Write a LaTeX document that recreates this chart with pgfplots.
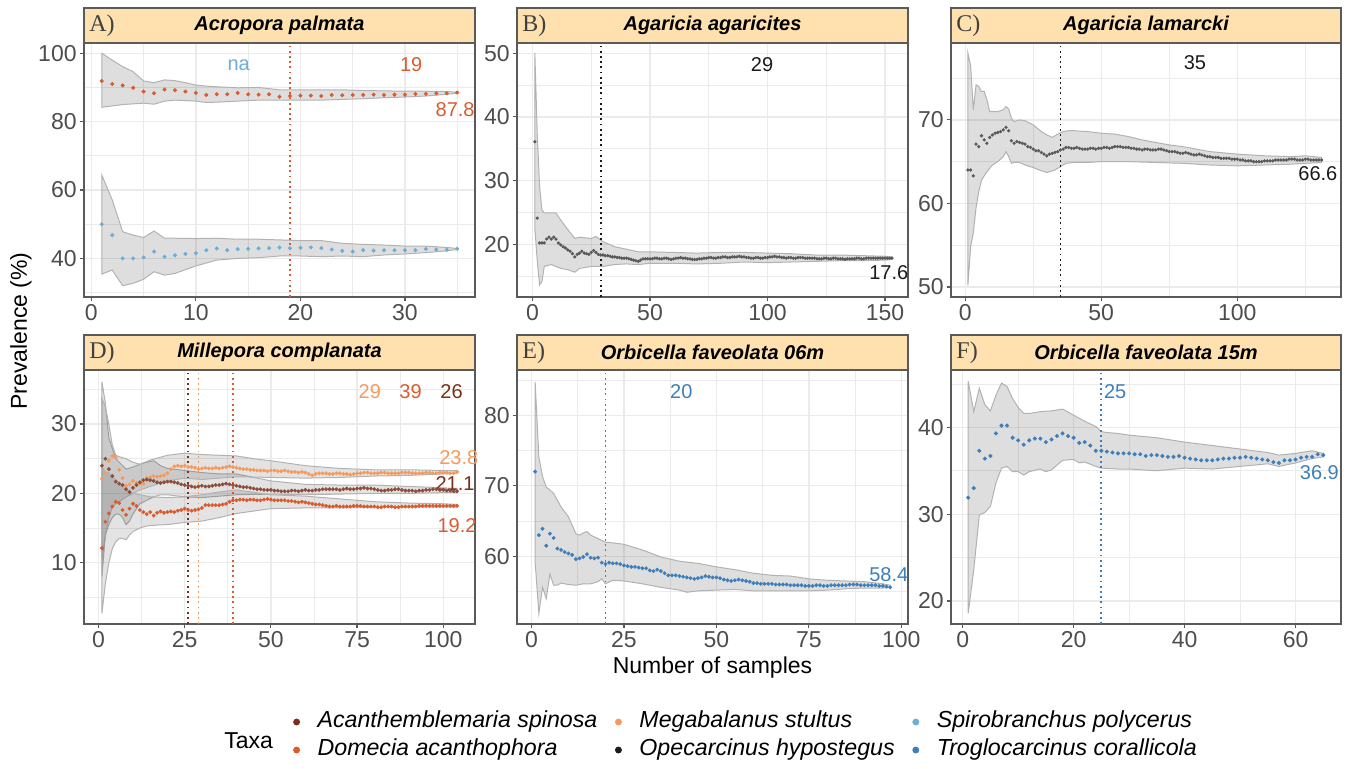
\documentclass[border=0pt]{standalone}
\usepackage{fontspec}
\setmainfont{Liberation Sans}
\newfontfamily\stripserif{Liberation Serif}
\usepackage{pgfplots}
\pgfplotsset{compat=1.18}

\definecolor{acanth}{HTML}{7B2E1A}
\definecolor{dom}{HTML}{D95B2E}
\definecolor{megab}{HTML}{F59A5B}
\definecolor{opec}{HTML}{1A1A1A}
\definecolor{spiro}{HTML}{6BAED6}
\definecolor{troglo}{HTML}{3D7EBB}
\definecolor{stripfill}{HTML}{FFE1B0}
\definecolor{grid92}{HTML}{EBEBEB}
\definecolor{grey30}{HTML}{4D4D4D}
\definecolor{frame}{HTML}{5A5A5A}

\pgfplotsset{
  panel/.style={
    scale only axis, width=195.5pt, height=127pt, anchor=south west, clip=false,
    axis line style={draw=frame, line width=0.7pt},
    tick align=outside, tick pos=left,
    major tick length=2.2pt, minor tick length=0pt,
    every tick/.style={draw=frame, line width=0.6pt},
    grid=both,
    major grid style={draw=grid92, line width=0.65pt},
    minor grid style={draw=grid92, line width=0.35pt},
    tick label style={font=\fontsize{11.5}{12}\selectfont, text=grey30},
    xticklabel style={inner ysep=1.5pt},
    yticklabel style={inner xsep=1.3pt},
    /pgf/number format/assume math mode=true,
  },
  smp/.style={only marks, mark=*, mark size=0.75pt, color=#1, mark options={draw=none, fill=#1}, forget plot},
  ribsty/.style={fill=black, fill opacity=0.13, draw=black!30, line width=0.5pt, forget plot},
  vcut/.style={color=#1, dash pattern=on 0.9pt off 1.7pt, line width=0.9pt, forget plot},
  table/seq/.style={x expr=\coordindex+1, y index=0, header=false, row sep=\\},
  legdot/.style={legend image code/.code={\draw[only marks, mark=*, mark size=1.5pt, color=#1, mark options={draw=#1, fill=#1}] plot coordinates {(0pt,0pt)};}},
}
\tikzset{ann/.style={font=\fontsize{10}{12}\selectfont, inner sep=0pt}}

% ribbon: upper bound left to right, then lower bound right to left
\newcommand{\ribbon}[1]{\addplot[ribsty] coordinates {#1} -- cycle;}
\newcommand{\panelstrip}[2]{%
  \draw[draw=frame, line width=0.7pt, fill=stripfill] (rel axis cs:0,1) rectangle ([yshift=17.5pt]rel axis cs:1,1);
  \node[anchor=west, inner sep=0pt, text=black!75, font=\stripserif\fontsize{12}{12}\selectfont] at ([xshift=2.5pt, yshift=8.75pt]rel axis cs:0,1) {#1};
  \node[inner sep=0pt, font=\bfseries\itshape\fontsize{10}{12}\selectfont] at ([yshift=8.75pt]rel axis cs:0.5,1) {#2};
}

\begin{document}
\begin{tikzpicture}
\useasboundingbox (0pt,0pt) rectangle (676pt,-384pt);

% A) Acropora palmata
\begin{axis}[panel, at={(42pt,-148.5pt)},
  xmin=-0.7, xmax=36.7, ymin=28.7, ymax=103,
  xtick={0,10,20,30}, minor xtick={5,15,25,35},
  ytick={40,60,80,100}, minor ytick={30,50,70,90}]
\ribbon{(1,100)(2,98)(3,96.1)(4,94.6)(5,91.9)(6,91.4)(7,92.2)(8,92.0)(9,91.4)(10,90.7)(11,90.4)(12,90.2)(14,89.9)(16,90.0)(18,89.3)(20,89.3)(22,89.3)(24,89.3)(26,89.1)(28,89.0)(30,88.9)(32,88.9)(34,88.8)(35,88.6)
(35,88.3)(34,88.0)(32,87.5)(30,87.2)(28,87.0)(26,86.7)(24,86.5)(22,86.3)(20,86.3)(18,86.3)(16,86.3)(14,86.0)(12,85.7)(11,85.6)(10,86.0)(8,86.3)(7,86.0)(6,85.1)(5,85.4)(4,85.2)(3,85.0)(2,84.6)(1,84.2)}
\ribbon{(1,64.4)(2,57.1)(3,47.8)(4,46.8)(5,46.1)(6,48.0)(7,45.9)(8,45.9)(10,45.8)(12,45.9)(14,45.6)(16,45.6)(18,45.4)(20,45.2)(22,45.2)(24,44.4)(26,44.1)(28,43.9)(30,43.6)(32,43.6)(34,43.2)(35,42.9)
(35,42.6)(34,42.2)(32,41.7)(30,41.3)(28,41.0)(26,40.5)(24,40.7)(22,40.5)(20,40.7)(18,40.7)(16,40.2)(14,40.0)(12,39.5)(10,37.8)(8,35.6)(7,35.1)(6,36.1)(5,33.9)(4,32.7)(3,32.0)(2,36.6)(1,35.4)}
\addplot[vcut=dom] coordinates {(19,28.7) (19,103)};
\addplot[smp=dom, mark size=0.8pt] table[seq] {91.9\\91.0\\90.6\\89.9\\88.8\\88.3\\89.4\\89.2\\88.8\\88.4\\87.8\\88.0\\88.0\\88.4\\88.0\\87.9\\88.0\\87.3\\87.5\\87.6\\87.6\\87.5\\87.8\\87.7\\87.8\\87.8\\87.9\\87.8\\87.9\\87.9\\88.1\\88.1\\88.3\\88.3\\88.5\\};
\addplot[smp=spiro, mark size=0.8pt] table[seq] {50.0\\46.8\\40.0\\40.0\\40.3\\42.0\\40.5\\40.9\\41.3\\41.5\\42.4\\42.9\\42.4\\42.7\\42.8\\42.9\\43.0\\43.2\\43.0\\43.1\\43.2\\43.0\\42.6\\42.2\\42.0\\42.4\\42.3\\42.4\\42.4\\42.4\\42.4\\42.8\\42.6\\42.5\\42.8\\};
\node[ann, text=spiro] at (axis cs:14.1,96.6) {na};
\node[ann, text=dom] at (axis cs:30.6,96.6) {19};
\node[ann, text=dom] at (axis cs:34.8,83.4) {87.8};
\panelstrip{A)}{Acropora palmata}
\end{axis}

% B) Agaricia agaricites
\begin{axis}[panel, at={(258.5pt,-148.5pt)},
  xmin=-6.6, xmax=159.8, ymin=11.7, ymax=51.6,
  xtick={0,50,100,150}, minor xtick={25,75,125},
  ytick={20,30,40,50}, minor ytick={15,25,35,45}]
\ribbon{(1,50)(2,37.4)(3,29.1)(4,25.4)(5,24.9)(8,24.9)(10,24.9)(12,23.8)(15,22.3)(18,20.9)(20,21.1)(25,20.9)(27,21.2)(30,20.4)(35,19.6)(40,19.2)(45,18.8)(50,18.8)(60,18.7)(70,18.6)(80,18.7)(90,18.7)(100,18.6)(110,18.5)(120,18.3)(130,18.3)(140,18.2)(150,18.1)(153,18.0)
(153,17.6)(150,17.5)(140,17.4)(130,17.4)(120,17.3)(110,17.2)(100,17.1)(90,17.2)(80,17.0)(70,16.9)(60,17.0)(50,17.0)(45,16.8)(40,16.9)(35,16.8)(30,16.5)(25,16.5)(20,16.2)(18,15.6)(15,16.0)(12,16.2)(10,16.5)(8,16.8)(5,16.5)(4,14.1)(3,13.6)(2,17.5)(1,22.5)}
\addplot[vcut=opec] coordinates {(29,11.7) (29,51.6)};
\addplot[smp=black!65, mark size=0.6pt] table[seq] {36.1\\24.1\\20.2\\20.2\\20.2\\20.8\\21.1\\20.8\\21.1\\20.8\\
20.2\\19.9\\19.6\\19.4\\19.1\\18.9\\18.5\\18.0\\18.4\\18.6\\
18.9\\18.6\\18.5\\18.4\\18.7\\19.0\\18.7\\18.4\\18.3\\18.3\\
18.2\\18.2\\18.1\\18.0\\18.0\\17.9\\17.9\\17.8\\17.8\\17.8\\
17.7\\17.6\\17.5\\17.4\\17.3\\17.5\\17.7\\17.7\\17.7\\17.7\\
17.7\\17.8\\17.8\\17.7\\17.7\\17.8\\17.8\\17.7\\17.6\\17.7\\
17.8\\17.8\\17.9\\17.8\\17.8\\17.7\\17.7\\17.6\\17.6\\17.6\\
17.7\\17.7\\17.8\\17.8\\17.9\\17.9\\17.8\\17.8\\17.9\\17.9\\
18.0\\18.0\\17.9\\17.9\\18.0\\18.0\\18.0\\18.1\\18.0\\18.0\\
17.9\\17.9\\17.8\\17.8\\17.9\\17.9\\17.8\\17.8\\17.9\\17.9\\
18.0\\18.0\\18.1\\18.0\\18.0\\17.9\\17.9\\17.8\\17.9\\17.9\\
17.8\\17.8\\17.9\\17.9\\17.9\\17.8\\17.8\\17.8\\17.8\\17.8\\
17.7\\17.7\\17.7\\17.8\\17.8\\17.7\\17.7\\17.8\\17.8\\17.7\\
17.7\\17.7\\17.6\\17.7\\17.7\\17.7\\17.7\\17.8\\17.8\\17.7\\
17.7\\17.8\\17.8\\17.8\\17.8\\17.8\\17.8\\17.8\\17.8\\17.8\\
17.8\\17.8\\17.8\\};
\node[ann, text=opec] at (axis cs:97.7,48.2) {29};
\node[ann, text=opec] at (axis cs:151.6,15.5) {17.6};
\panelstrip{B)}{Agaricia agaricites}
\end{axis}

% C) Agaricia lamarcki
\begin{axis}[panel, at={(475.5pt,-148.5pt)}, width=195pt,
  xmin=-5.2, xmax=138.1, ymin=48.8, ymax=79.2,
  xtick={0,50,100}, minor xtick={25,75,125},
  ytick={50,60,70}, minor ytick={55,65,75}]
\ribbon{(1,78.0)(2,76.5)(3,71.2)(4,74.2)(5,74.0)(6,73.4)(7,73.4)(8,72.4)(9,71.0)(10,71.0)(12,71.0)(14,71.2)(15,71.6)(16,71.3)(17,70.2)(18,69.8)(20,70.0)(22,69.9)(25,69.4)(28,68.6)(30,68.2)(32,67.9)(34,68.3)(36,68.6)(38,68.7)(40,68.7)(45,68.6)(50,68.4)(55,68.3)(60,68.0)(65,67.6)(70,67.3)(75,67.0)(80,66.8)(90,66.2)(100,65.9)(110,65.7)(120,65.6)(125,65.7)(131,65.5)
(131,64.9)(125,64.8)(120,64.7)(110,64.6)(100,64.5)(90,64.6)(80,64.8)(70,64.9)(60,65.0)(55,65.0)(50,65.0)(45,64.9)(40,64.9)(37,64.8)(35,64.4)(33,64.0)(30,63.7)(28,63.9)(25,64.3)(22,64.6)(20,64.9)(18,64.9)(17,64.8)(16,65.6)(15,66.2)(14,65.6)(12,65.0)(10,64.6)(8,63.8)(6,62.8)(5,61.4)(4,59.5)(3,56.5)(2,54.8)(1,50.2)}
\addplot[vcut=opec] coordinates {(35,48.8) (35,79.2)};
\addplot[smp=black!65, mark size=0.6pt] table[seq] {64.0\\64.0\\63.3\\67.1\\66.8\\68.1\\67.6\\67.2\\67.9\\68.2\\
68.4\\68.5\\68.6\\68.8\\69.1\\68.7\\67.5\\67.2\\67.4\\67.3\\
67.2\\67.1\\66.8\\66.7\\66.5\\66.3\\66.3\\66.1\\65.9\\65.7\\
65.9\\66.0\\66.1\\66.2\\66.4\\66.5\\66.7\\66.7\\66.6\\66.6\\
66.7\\66.6\\66.5\\66.5\\66.5\\66.6\\66.6\\66.5\\66.6\\66.6\\
66.7\\66.7\\66.6\\66.7\\66.8\\66.8\\66.8\\66.7\\66.7\\66.7\\
66.6\\66.6\\66.5\\66.5\\66.4\\66.5\\66.5\\66.4\\66.4\\66.4\\
66.5\\66.5\\66.4\\66.3\\66.2\\66.2\\66.2\\66.1\\66.0\\66.0\\
66.1\\66.0\\65.9\\65.8\\65.8\\65.9\\65.8\\65.7\\65.6\\65.6\\
65.5\\65.5\\65.5\\65.4\\65.4\\65.4\\65.4\\65.3\\65.3\\65.3\\
65.2\\65.2\\65.1\\65.1\\65.1\\65.0\\65.0\\65.0\\65.0\\65.1\\
65.1\\65.1\\65.1\\65.2\\65.2\\65.2\\65.2\\65.2\\65.3\\65.3\\
65.3\\65.2\\65.2\\65.2\\65.3\\65.3\\65.2\\65.2\\65.2\\65.2\\
65.2\\};
\node[ann, text=opec] at (axis cs:84.4,76.8) {35};
\node[ann, text=opec] at (axis cs:129.6,63.6) {66.6};
\panelstrip{C)}{Agaricia lamarcki}
\end{axis}

% D) Millepora complanata
\begin{axis}[panel, at={(42pt,-312pt)},
  xmin=-4.2, xmax=109.2, ymin=1.15, ymax=37.8,
  xtick={0,25,50,75,100}, minor xtick={12.5,37.5,62.5,87.5},
  ytick={10,20,30}, minor ytick={5,15,25,35},
  ribsty/.append style={fill opacity=0.11}]
\ribbon{(1,36.1)(2,33.0)(3,28.0)(4,26.5)(5,25.0)(6,24.5)(8,23.5)(10,23.8)(12,24.2)(14,24.5)(16,24.7)(18,24.0)(20,23.6)(25,23.3)(30,23.0)(35,22.8)(40,22.8)(50,21.8)(60,21.3)(70,21.2)(80,21.2)(90,21.0)(100,20.8)(104,20.7)
(104,20.1)(100,20.1)(90,20.0)(80,20.0)(70,19.9)(60,19.8)(50,19.9)(40,19.8)(35,19.6)(30,19.4)(25,19.5)(20,19.8)(18,19.8)(16,19.5)(14,19.0)(12,18.5)(10,17.0)(9,16.0)(8,15.5)(7,16.5)(6,17.0)(5,17.0)(4,16.5)(3,15.5)(2,14.0)(1,10.4)}
\ribbon{(1,33.7)(2,32.5)(3,30.0)(4,27.0)(5,25.5)(6,25.3)(8,25.0)(10,24.5)(12,24.2)(15,24.8)(20,25.5)(25,25.8)(30,25.6)(35,25.5)(40,25.4)(45,25.0)(50,24.7)(60,24.0)(70,23.6)(80,23.4)(90,23.4)(100,23.3)(104,23.3)
(104,22.9)(100,22.8)(90,22.6)(80,22.5)(70,22.3)(60,22.2)(50,22.3)(40,22.4)(35,22.2)(30,22.0)(25,22.2)(20,21.8)(15,21.0)(12,20.5)(10,20.0)(8,19.5)(6,18.8)(5,18.5)(4,18.0)(3,16.5)(2,14.0)(1,8.0)}
\ribbon{(1,24.0)(2,23.0)(3,23.0)(4,22.5)(5,22.0)(6,21.5)(7,21.0)(8,20.5)(10,20.0)(12,19.8)(15,19.5)(20,19.4)(25,19.5)(30,19.8)(35,20.2)(40,20.5)(50,19.8)(60,19.6)(70,19.2)(80,18.8)(90,18.6)(100,18.5)(104,18.4)
(104,18.0)(100,18.0)(90,18.0)(80,18.0)(70,17.9)(60,17.9)(50,17.8)(40,17.1)(35,16.5)(30,16.0)(25,15.8)(20,15.5)(16,15.4)(14,15.3)(12,15.0)(10,14.5)(9,14.0)(8,13.3)(7,13.5)(6,13.5)(5,13.0)(4,12.0)(3,10.0)(2,7.0)(1,2.7)}
\addplot[vcut=acanth] coordinates {(26,1.15) (26,37.8)};
\addplot[vcut=megab] coordinates {(29,1.15) (29,37.8)};
\addplot[vcut=dom] coordinates {(39,1.15) (39,37.8)};
\addplot[smp=megab] table[seq] {22.1\\23.0\\24.7\\25.4\\25.2\\23.4\\22.2\\21.1\\21.3\\21.8\\
21.5\\21.4\\21.4\\22.2\\22.3\\22.5\\22.4\\22.5\\22.6\\22.9\\
23.5\\23.9\\24.0\\23.9\\24.0\\23.8\\23.8\\23.7\\23.5\\23.6\\
23.7\\23.6\\23.6\\23.7\\23.6\\23.7\\23.8\\23.9\\23.8\\23.7\\
23.6\\23.5\\23.5\\23.4\\23.4\\23.3\\23.3\\23.3\\23.2\\23.3\\
23.3\\23.2\\23.2\\23.3\\23.2\\23.1\\23.1\\23.0\\23.1\\23.0\\
22.8\\22.6\\22.8\\22.9\\22.9\\22.9\\22.8\\22.8\\22.9\\22.9\\
22.8\\22.8\\22.7\\22.8\\22.9\\22.9\\23.0\\23.0\\22.9\\22.9\\
22.9\\23.0\\23.0\\22.9\\22.9\\22.9\\22.9\\23.0\\23.0\\23.0\\
22.9\\22.9\\22.9\\22.9\\23.0\\23.0\\22.9\\22.9\\23.0\\23.0\\
23.0\\22.9\\22.9\\23.1\\};
\addplot[smp=acanth!85] table[seq] {24.0\\25.0\\23.5\\22.5\\21.7\\21.4\\21.2\\20.6\\20.2\\20.8\\
21.2\\21.6\\21.9\\22.0\\21.9\\21.8\\21.6\\21.5\\21.6\\21.7\\
21.7\\21.6\\21.5\\21.3\\21.2\\21.1\\21.0\\20.9\\21.0\\21.1\\
21.0\\21.0\\21.1\\21.2\\21.2\\21.3\\21.4\\21.3\\21.2\\21.1\\
21.0\\20.9\\20.9\\20.8\\20.7\\20.6\\20.6\\20.5\\20.5\\20.5\\
20.4\\20.4\\20.3\\20.3\\20.3\\20.4\\20.4\\20.3\\20.4\\20.5\\
20.4\\20.4\\20.5\\20.5\\20.6\\20.6\\20.6\\20.6\\20.6\\20.5\\
20.6\\20.7\\20.6\\20.6\\20.7\\20.7\\20.8\\20.7\\20.7\\20.6\\
20.5\\20.4\\20.4\\20.5\\20.5\\20.6\\20.6\\20.5\\20.4\\20.4\\
20.4\\20.3\\20.4\\20.4\\20.5\\20.5\\20.6\\20.6\\20.5\\20.5\\
20.4\\20.4\\20.3\\20.3\\};
\addplot[smp=dom] table[seq] {12.1\\15.9\\17.1\\18.1\\18.8\\18.6\\17.6\\16.9\\17.8\\18.5\\
18.2\\17.6\\17.3\\17.0\\17.3\\16.8\\17.2\\17.4\\17.2\\17.3\\
17.4\\17.3\\17.5\\17.6\\17.8\\17.6\\17.5\\17.6\\17.7\\17.9\\
18.3\\18.3\\18.3\\18.3\\18.3\\18.4\\18.5\\18.8\\19.0\\19.0\\
19.1\\19.1\\19.0\\19.1\\19.1\\19.0\\19.0\\19.1\\19.2\\19.1\\
19.0\\19.0\\19.0\\19.0\\18.9\\18.9\\18.8\\18.7\\18.8\\18.7\\
18.6\\18.5\\18.4\\18.4\\18.3\\18.2\\18.1\\18.1\\18.2\\18.1\\
18.1\\18.1\\18.1\\18.2\\18.2\\18.2\\18.1\\18.1\\18.1\\18.1\\
18.0\\18.0\\18.1\\18.1\\18.1\\18.0\\18.0\\18.1\\18.1\\18.1\\
18.1\\18.1\\18.2\\18.2\\18.2\\18.2\\18.2\\18.2\\18.2\\18.2\\
18.2\\18.2\\18.2\\18.2\\};
\node[ann, text=megab] at (axis cs:78.7,34.7) {29};
\node[ann, text=dom] at (axis cs:90.5,34.7) {39};
\node[ann, text=acanth] at (axis cs:102.4,34.7) {26};
\node[ann, text=megab] at (axis cs:104.5,25.2) {23.8};
\node[ann, text=acanth] at (axis cs:103.4,21.4) {21.1};
\node[ann, text=dom] at (axis cs:104.0,15.4) {19.2};
\panelstrip{D)}{Millepora complanata}
\end{axis}

% E) Orbicella faveolata 06m
\begin{axis}[panel, at={(258.5pt,-312pt)},
  xmin=-3.9, xmax=101.8, ymin=50.4, ymax=86.4,
  xtick={0,25,50,75,100}, minor xtick={12.5,37.5,62.5,87.5},
  ytick={60,70,80}, minor ytick={55,65,75,85}]
\ribbon{(1,84.7)(2,74.1)(3,71.3)(4,69.8)(5,69.4)(6,68.9)(8,67.0)(10,65.6)(12,63.2)(13,63.0)(14,63.3)(15,63.5)(16,63.0)(18,62.5)(20,62.0)(22,61.9)(25,61.7)(30,60.9)(35,59.9)(40,59.3)(45,59.0)(50,58.5)(55,58.1)(60,57.6)(65,57.3)(70,57.2)(75,56.8)(80,56.6)(85,56.5)(90,56.4)(95,56.1)(97,55.9)
(97,55.6)(95,55.5)(90,55.5)(85,55.4)(80,55.2)(75,55.1)(70,55.1)(65,55.1)(60,55.1)(55,55.3)(50,55.2)(45,55.1)(42,54.9)(40,55.2)(35,55.6)(30,56.1)(25,56.5)(22,56.6)(20,56.1)(19,56.8)(18,56.4)(16,56.1)(14,56.1)(12,55.9)(10,56.0)(8,56.2)(7,55.9)(6,55.9)(5,57.5)(4,54.0)(3,55.6)(2,51.9)(1,59.2)}
\addplot[vcut=troglo] coordinates {(20,50.4) (20,86.4)};
\addplot[smp=troglo] table[seq] {72.0\\63.0\\63.9\\61.5\\63.2\\62.6\\61.1\\60.9\\60.6\\60.4\\
60.2\\59.6\\59.7\\59.9\\60.3\\59.8\\59.7\\59.8\\59.1\\58.9\\
59.1\\59.0\\59.0\\58.9\\58.7\\58.6\\58.5\\58.5\\58.4\\58.3\\
58.3\\58.0\\57.9\\58.1\\57.9\\57.6\\57.3\\57.3\\57.3\\57.2\\
57.1\\57.0\\56.9\\56.8\\56.9\\57.0\\57.2\\57.1\\57.0\\57.0\\
56.9\\56.7\\56.6\\56.5\\56.6\\56.7\\56.6\\56.5\\56.4\\56.2\\
56.2\\56.1\\56.1\\56.1\\56.1\\56.0\\56.0\\56.0\\56.0\\55.9\\
55.9\\55.9\\55.9\\55.8\\55.8\\55.8\\55.9\\55.9\\55.8\\55.8\\
55.9\\55.9\\55.9\\55.9\\55.9\\56.0\\56.0\\56.0\\55.9\\55.9\\
55.9\\55.9\\55.9\\55.8\\55.8\\55.7\\55.6\\};
\node[ann, text=troglo] at (axis cs:40.5,83.3) {20};
\node[ann, text=troglo] at (axis cs:96.6,57.4) {58.4};
\panelstrip{E)}{Orbicella faveolata 06m}
\end{axis}

% F) Orbicella faveolata 15m
\begin{axis}[panel, at={(475.5pt,-312pt)}, width=195pt,
  xmin=-2.1, xmax=68.2, ymin=17.35, ymax=46.6,
  xtick={0,20,40,60}, minor xtick={10,30,50},
  ytick={20,30,40}, minor ytick={25,35,45}]
\ribbon{(1,45.3)(2,41.8)(3,44.5)(4,42.6)(5,41.9)(6,43.7)(7,45.1)(8,44.7)(9,43.3)(10,42.3)(11,41.6)(12,41.6)(14,41.8)(16,41.9)(18,42.1)(20,41.4)(22,40.7)(24,40.1)(25,39.5)(26,39.4)(28,39.3)(30,39.1)(35,38.8)(40,38.3)(45,37.9)(50,37.5)(55,37.1)(57,36.8)(60,37.0)(63,37.3)(65,37.0)
(65,36.6)(63,36.4)(60,35.9)(57,35.5)(55,35.8)(50,35.5)(45,35.2)(40,35.3)(35,35.0)(30,35.2)(28,35.2)(25,35.3)(24,35.5)(22,36.0)(21,35.9)(20,36.3)(18,36.2)(16,35.1)(15,34.9)(14,35.2)(12,34.9)(11,34.5)(10,34.9)(9,34.9)(8,35.5)(7,35.3)(6,33.6)(5,30.9)(4,30.2)(3,29.9)(2,23.6)(1,18.6)}
\addplot[vcut=troglo] coordinates {(25,17.35) (25,46.6)};
\addplot[smp=troglo, mark size=0.8pt] table[seq] {31.9\\33.0\\37.3\\36.4\\36.7\\39.3\\40.2\\40.2\\38.8\\38.5\\
38.0\\38.5\\38.7\\38.7\\38.3\\38.6\\39.0\\39.3\\39.0\\38.8\\
38.2\\38.3\\37.9\\37.3\\37.3\\37.2\\37.1\\37.0\\37.0\\37.0\\
36.9\\36.9\\36.7\\36.8\\36.8\\36.7\\36.6\\36.6\\36.7\\36.5\\
36.4\\36.3\\36.2\\36.2\\36.2\\36.3\\36.4\\36.4\\36.5\\36.5\\
36.6\\36.5\\36.4\\36.3\\36.2\\36.0\\35.9\\36.2\\36.2\\36.3\\
36.5\\36.6\\36.6\\36.9\\36.8\\};
\node[ann, text=troglo] at (axis cs:27.5,44.1) {25};
\node[ann, text=troglo] at (axis cs:64.3,34.8) {36.9};
\panelstrip{F)}{Orbicella faveolata 15m}
\end{axis}

% legend
\begin{axis}[at={(146.6pt,-368pt)}, anchor=south west, hide axis, scale only axis,
  width=2pt, height=2pt, xmin=0, xmax=1, ymin=0, ymax=1,
  legend columns=3, legend cell align=left,
  legend style={at={(0,0)}, anchor=west, draw=none, fill=none, inner sep=0pt,
    font=\itshape\fontsize{11.6}{13}\selectfont,
    nodes={inner xsep=2pt, inner ysep=0pt, text height=8.4pt, text depth=2.5pt},
    row sep=3.1pt,
    /tikz/every even column/.append style={column sep=7pt},
    /tikz/every odd column/.append style={column sep=7pt}}]
\addlegendimage{legdot=acanth}\addlegendentry{Acanthemblemaria spinosa}
\addlegendimage{legdot=megab}\addlegendentry{Megabalanus stultus}
\addlegendimage{legdot=spiro}\addlegendentry{Spirobranchus polycerus}
\addlegendimage{legdot=dom}\addlegendentry{Domecia acanthophora}
\addlegendimage{legdot=opec}\addlegendentry{Opecarcinus hypostegus}
\addlegendimage{legdot=troglo}\addlegendentry{Troglocarcinus corallicola}
\end{axis}

\node[font=\fontsize{11.5}{13}\selectfont] at (124.3pt,-370.5pt) {Taxa};
\node[rotate=90, font=\fontsize{11.5}{13}\selectfont] at (10.5pt,-165.5pt) {Prevalence (\%)};
\node[font=\fontsize{11.5}{13}\selectfont] at (356.25pt,-334pt) {Number of samples};
\end{tikzpicture}
\end{document}
